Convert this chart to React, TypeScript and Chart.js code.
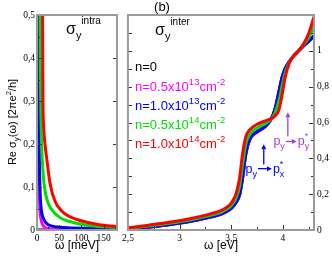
import React, { useEffect, useRef } from "react";
import { Chart, registerables } from "chart.js";

Chart.register(...registerables);

// ---------------- data ----------------
// Left panel: intraband, omega in meV
const intraRedX = [10, 12.5, 13.5, 15, 18, 22, 29, 40, 55, 70, 97, 140, 180];
const intraRedY = [1.5, 0.5, 0.3, 0.24, 0.2, 0.165, 0.11, 0.068, 0.045, 0.033, 0.022, 0.012, 0.008];
const intraGreenX = [5, 7, 8.5, 10.5, 13.5, 18, 24, 30, 50, 80, 120, 180];
const intraGreenY = [1.5, 0.5, 0.3, 0.2, 0.135, 0.092, 0.066, 0.052, 0.03, 0.018, 0.01, 0.006];
const intraBlueX = [1.5, 3.5, 5, 7, 10, 14, 20, 30, 60, 120, 180];
const intraBlueY = [1.5, 0.5, 0.2, 0.09, 0.045, 0.028, 0.017, 0.01, 0.006, 0.004, 0.003];
const intraMagentaX = [0.8, 2.5, 4, 6, 9, 14, 22, 40, 180];
const intraMagentaY = [1.5, 0.5, 0.18, 0.06, 0.025, 0.01, 0.004, 0.002, 0.001];
const intraBlackX = [0, 180];
const intraBlackY = [0, 0];

// Right panel: interband, omega in eV
const interX = [2.5, 2.7, 2.9, 3.1, 3.3, 3.4, 3.45, 3.5, 3.55, 3.58, 3.61, 3.64, 3.68, 3.75, 3.82, 3.88, 3.92, 3.96, 3.99, 4.02, 4.06, 4.1, 4.15, 4.2, 4.25, 4.3];
const interRedY = [0.012, 0.027, 0.043, 0.063, 0.09, 0.108, 0.125, 0.15, 0.21, 0.29, 0.43, 0.52, 0.56, 0.59, 0.607, 0.62, 0.635, 0.67, 0.75, 0.85, 0.93, 0.97, 1.0, 1.04, 1.1, 1.19];
const interGreenY = [0.008, 0.022, 0.037, 0.056, 0.082, 0.099, 0.114, 0.136, 0.185, 0.245, 0.37, 0.48, 0.535, 0.57, 0.59, 0.617, 0.65, 0.72, 0.8, 0.875, 0.935, 0.97, 1.0, 1.035, 1.075, 1.14];
const interBlueY = [0.004, 0.017, 0.031, 0.049, 0.074, 0.09, 0.103, 0.122, 0.16, 0.2, 0.3, 0.43, 0.51, 0.55, 0.575, 0.615, 0.67, 0.77, 0.85, 0.9, 0.94, 0.97, 1.0, 1.03, 1.055, 1.085];
const interMagentaY = [0.003, 0.016, 0.03, 0.048, 0.073, 0.089, 0.102, 0.121, 0.158, 0.197, 0.295, 0.425, 0.507, 0.548, 0.574, 0.614, 0.669, 0.769, 0.849, 0.899, 0.939, 0.969, 0.999, 1.029, 1.054, 1.083];
const interBlackY = [0.002, 0.015, 0.029, 0.047, 0.072, 0.088, 0.101, 0.12, 0.156, 0.195, 0.29, 0.42, 0.505, 0.547, 0.573, 0.613, 0.668, 0.768, 0.848, 0.898, 0.938, 0.968, 0.998, 1.028, 1.053, 1.082];

// ticks
const intraXMajor = [0, 50, 100, 150];
const intraXMinor = [25, 75, 125, 175];
const intraYMajor = [0, 0.1, 0.2, 0.3, 0.4, 0.5];
const intraYMinor = [0.05, 0.15, 0.25, 0.35, 0.45];
const interXMajor = [2.5, 3, 3.5, 4];
const interXMinor = [2.75, 3.25, 3.75, 4.25];
const interYMajor = [0, 0.2, 0.4, 0.6, 0.8, 1.0, 1.2];
const interYMinor = [0.1, 0.3, 0.5, 0.7, 0.9, 1.1];

const legendLabels = [
  { base: "n=0", exp: "", color: "#000000" },
  { base: "n=0.5x10", exp: "13", color: "#ff00ff" },
  { base: "n=1.0x10", exp: "13", color: "#0000ff" },
  { base: "n=0.5x10", exp: "14", color: "#00e000" },
  { base: "n=1.0x10", exp: "14", color: "#ff0000" },
];

const RED = "#ff0000";
const GREEN = "#00e000";
const BLUE = "#0000ff";
const MAGENTA = "#ff00ff";
const BLACK = "#000000";
const PURPLE = "#a040e0";
const FRAME = "#9a9a9a";
const TICK = "#333333";
const SANS = "'Liberation Sans', Arial, sans-serif";
const SERIF = "'Liberation Serif', 'Times New Roman', serif";

// ---------------- helpers ----------------
type Seg = { t: string; size: number; dy?: number; adv?: boolean };

function richWidth(ctx: CanvasRenderingContext2D, segs: Seg[]) {
  let w = 0;
  for (const s of segs) {
    ctx.font = `${s.size}px ${SANS}`;
    if (s.adv !== false) w += ctx.measureText(s.t).width;
  }
  return w;
}

function drawRich(ctx: CanvasRenderingContext2D, segs: Seg[], x: number, y: number, color: string, align: "left" | "center" = "left") {
  ctx.save();
  ctx.fillStyle = color;
  ctx.textBaseline = "alphabetic";
  ctx.textAlign = "left";
  const w = richWidth(ctx, segs);
  let cx = align === "center" ? x - w / 2 : x;
  for (const s of segs) {
    ctx.font = `${s.size}px ${SANS}`;
    ctx.fillText(s.t, cx, y + (s.dy || 0));
    if (s.adv !== false) cx += ctx.measureText(s.t).width;
  }
  ctx.restore();
  return w;
}

function arrow(ctx: CanvasRenderingContext2D, x1: number, y1: number, x2: number, y2: number, color: string) {
  const ang = Math.atan2(y2 - y1, x2 - x1);
  const hl = 5, hw = 2.5;
  ctx.save();
  ctx.strokeStyle = color;
  ctx.fillStyle = color;
  ctx.lineWidth = 1.3;
  ctx.beginPath();
  ctx.moveTo(x1, y1);
  ctx.lineTo(x2 - hl * Math.cos(ang), y2 - hl * Math.sin(ang));
  ctx.stroke();
  ctx.beginPath();
  ctx.moveTo(x2, y2);
  ctx.lineTo(x2 - hl * Math.cos(ang) + hw * Math.sin(ang), y2 - hl * Math.sin(ang) - hw * Math.cos(ang));
  ctx.lineTo(x2 - hl * Math.cos(ang) - hw * Math.sin(ang), y2 - hl * Math.sin(ang) + hw * Math.cos(ang));
  ctx.closePath();
  ctx.fill();
  ctx.restore();
}

type TickSpec = { axis: string; values: number[]; side: "bottom" | "left" | "right"; len: number };

function drawFrame(chart: any, specs: TickSpec[]) {
  const { ctx, chartArea: a, scales } = chart;
  ctx.save();
  ctx.strokeStyle = TICK;
  ctx.lineWidth = 1;
  for (const sp of specs) {
    const sc = scales[sp.axis];
    for (const v of sp.values) {
      const p = Math.round(sc.getPixelForValue(v)) + 0.5;
      ctx.beginPath();
      if (sp.side === "bottom") {
        ctx.moveTo(p, a.bottom);
        ctx.lineTo(p, a.bottom - sp.len);
      } else if (sp.side === "left") {
        ctx.moveTo(a.left, p);
        ctx.lineTo(a.left + sp.len, p);
      } else {
        ctx.moveTo(a.right, p);
        ctx.lineTo(a.right - sp.len, p);
      }
      ctx.stroke();
    }
  }
  ctx.strokeStyle = FRAME;
  ctx.lineWidth = 2;
  ctx.strokeRect(a.left, a.top, a.right - a.left, a.bottom - a.top);
  ctx.restore();
}

const fmt = (v: number | string) => {
  const n = Number(v);
  if (Math.abs(n) < 1e-9) return "0";
  return String(+n.toFixed(1)).replace(".", ",");
};

const pts = (xs: number[], ys: number[]) => xs.map((x, i) => ({ x, y: ys[i] }));

const ds = (data: { x: number; y: number }[], color: string) => ({
  data,
  borderColor: color,
  backgroundColor: color,
  borderWidth: 3,
  pointRadius: 0,
  fill: false,
  cubicInterpolationMode: "monotone" as const,
});

const baseTicks = (size: number, padding: number) => ({
  color: "#000",
  font: { family: SERIF, size },
  padding,
  autoSkip: false,
  maxRotation: 0,
  minRotation: 0,
  includeBounds: false,
});

// ---------------- component ----------------
export default function App() {
  const leftRef = useRef<HTMLCanvasElement>(null);
  const rightRef = useRef<HTMLCanvasElement>(null);

  useEffect(() => {
    const leftPlugin = {
      id: "leftDecor",
      afterDatasetsDraw(chart: any) {
        drawFrame(chart, [
          { axis: "x", values: intraXMajor, side: "bottom", len: 5 },
          { axis: "x", values: intraXMinor, side: "bottom", len: 3 },
          { axis: "y", values: intraYMajor, side: "left", len: 5 },
          { axis: "y", values: intraYMinor, side: "left", len: 3 },
          { axis: "y", values: intraYMajor, side: "right", len: 4 },
        ]);
        const ctx: CanvasRenderingContext2D = chart.ctx;
        // sigma intra label
        drawRich(ctx, [
          { t: "σ", size: 16 },
          { t: "y", size: 11, dy: 5 },
          { t: "intra", size: 10, dy: -10 },
        ], 66, 34, "#000");
        // y axis title (rotated)
        ctx.save();
        ctx.translate(12, 122);
        ctx.rotate(-Math.PI / 2);
        drawRich(ctx, [
          { t: "Re σ", size: 11 },
          { t: "y", size: 8, dy: 3 },
          { t: "(ω) [2πe", size: 11 },
          { t: "2", size: 7.5, dy: -5 },
          { t: "/h]", size: 11 },
        ], 0, 4, "#000", "center");
        ctx.restore();
      },
    };

    const rightPlugin = {
      id: "rightDecor",
      afterDatasetsDraw(chart: any) {
        drawFrame(chart, [
          { axis: "x", values: interXMajor, side: "bottom", len: 5 },
          { axis: "x", values: interXMinor, side: "bottom", len: 3 },
          { axis: "y", values: interYMajor, side: "right", len: 5 },
          { axis: "y", values: interYMinor, side: "right", len: 3 },
          { axis: "y", values: [...interYMajor, ...interYMinor], side: "left", len: 4 },
        ]);
        const ctx: CanvasRenderingContext2D = chart.ctx;
        const X0 = 119; // canvas offset in page
        // title
        drawRich(ctx, [{ t: "(b)", size: 13 }], 162 - X0, 11, "#000", "center");
        // sigma inter
        drawRich(ctx, [
          { t: "σ", size: 16 },
          { t: "y", size: 11, dy: 5 },
          { t: "inter", size: 10, dy: -10 },
        ], 155 - X0, 35, "#000");
        // legend texts
        const baselines = [71, 91, 110, 129, 148];
        legendLabels.forEach((l, i) => {
          const segs: Seg[] = [{ t: l.base, size: 13 }];
          if (l.exp) {
            segs.push({ t: l.exp, size: 9.5, dy: -6 });
            segs.push({ t: "cm", size: 13 });
            segs.push({ t: "-2", size: 9.5, dy: -6 });
          }
          drawRich(ctx, segs, 135 - X0, baselines[i], l.color);
        });
        // transition annotations (data coordinates)
        const xs = chart.scales.x;
        const ys = chart.scales.y;
        // blue: p_y -> p*_x
        const bx = xs.getPixelForValue(3.814);
        arrow(ctx, bx, ys.getPixelForValue(0.365), bx, ys.getPixelForValue(0.478), BLUE);
        const blX = xs.getPixelForValue(3.637);
        const blY = ys.getPixelForValue(0.32);
        const wa = drawRich(ctx, [{ t: "p", size: 12.5 }, { t: "y", size: 9, dy: 4 }], blX, blY, BLUE);
        arrow(ctx, blX + wa + 1, blY - 4, blX + wa + 15, blY - 4, BLUE);
        drawRich(ctx, [{ t: "p", size: 12.5 }, { t: "*", size: 9, dy: -6, adv: false }, { t: "x", size: 9, dy: 4 }], blX + wa + 16, blY, BLUE);
        // purple: p_y -> p*_y
        const px = xs.getPixelForValue(4.047);
        arrow(ctx, px, ys.getPixelForValue(0.522), px, ys.getPixelForValue(0.657), PURPLE);
        const plX = xs.getPixelForValue(3.907);
        const plY = ys.getPixelForValue(0.472);
        const wb = drawRich(ctx, [{ t: "p", size: 12.5 }, { t: "y", size: 9, dy: 4 }], plX, plY, PURPLE);
        arrow(ctx, plX + wb + 1, plY - 4, plX + wb + 12, plY - 4, PURPLE);
        drawRich(ctx, [{ t: "p", size: 12.5 }, { t: "*", size: 9, dy: -6, adv: false }, { t: "y", size: 9, dy: 4 }], plX + wb + 13, plY, PURPLE);
      },
    };

    const common = {
      animation: false as const,
      responsive: false,
      maintainAspectRatio: false,
      events: [] as any[],
      plugins: { legend: { display: false }, tooltip: { enabled: false } },
    };

    const left = new Chart(leftRef.current!, {
      type: "line",
      data: {
        datasets: [
          ds(pts(intraRedX, intraRedY), RED),
          ds(pts(intraGreenX, intraGreenY), GREEN),
          ds(pts(intraBlueX, intraBlueY), BLUE),
          ds(pts(intraMagentaX, intraMagentaY), MAGENTA),
          ds(pts(intraBlackX, intraBlackY), BLACK),
        ],
      },
      options: {
        ...common,
        layout: { padding: { top: 15, right: 2, left: 0, bottom: 0 } },
        scales: {
          x: {
            type: "linear",
            min: 0,
            max: 180,
            afterFit: (s: any) => { s.height = 26; },
            grid: { display: false, drawTicks: false },
            border: { display: false },
            ticks: { ...baseTicks(9.5, 3), stepSize: 50, callback: fmt },
            title: { display: true, text: "ω [meV]", color: "#000", font: { family: SANS, size: 12 }, padding: { top: 0, bottom: 3 } },
          },
          y: {
            type: "linear",
            min: 0,
            max: 0.5,
            afterFit: (s: any) => { s.width = 37; },
            grid: { display: false, drawTicks: false },
            border: { display: false },
            ticks: { ...baseTicks(9.5, 2), stepSize: 0.1, callback: fmt },
          },
        },
      } as any,
      plugins: [leftPlugin],
    });

    const right = new Chart(rightRef.current!, {
      type: "line",
      data: {
        datasets: [
          ds(pts(interX, interRedY), RED),
          ds(pts(interX, interGreenY), GREEN),
          ds(pts(interX, interBlueY), BLUE),
          ds(pts(interX, interMagentaY), MAGENTA),
          ds(pts(interX, interBlackY), BLACK),
        ],
      },
      options: {
        ...common,
        layout: { padding: { top: 15, right: 0, left: 2, bottom: 0 } },
        scales: {
          x: {
            type: "linear",
            min: 2.5,
            max: 4.3,
            afterFit: (s: any) => { s.height = 26; },
            grid: { display: false, drawTicks: false },
            border: { display: false },
            ticks: { ...baseTicks(9.5, 3), stepSize: 0.5, callback: fmt },
            title: { display: true, text: "ω [eV]", color: "#000", font: { family: SANS, size: 12 }, padding: { top: 0, bottom: 3 } },
          },
          y: {
            type: "linear",
            position: "right",
            min: 0,
            max: 1.2,
            afterFit: (s: any) => { s.width = 18; },
            grid: { display: false, drawTicks: false },
            border: { display: false },
            ticks: {
              ...baseTicks(9.5, 3),
              stepSize: 0.2,
              callback: (v: any) => (Number(v) > 1.1 ? "" : fmt(v)),
            },
          },
        },
      } as any,
      plugins: [rightPlugin],
    });

    return () => {
      left.destroy();
      right.destroy();
    };
  }, []);

  return (
    <div style={{ position: "absolute", left: 0, top: 0, width: 332, height: 256, background: "#fff" }}>
      <canvas ref={leftRef} width={119} height={256} style={{ position: "absolute", left: 0, top: 0, width: 119, height: 256 }} />
      <canvas ref={rightRef} width={213} height={256} style={{ position: "absolute", left: 119, top: 0, width: 213, height: 256 }} />
    </div>
  );
}
